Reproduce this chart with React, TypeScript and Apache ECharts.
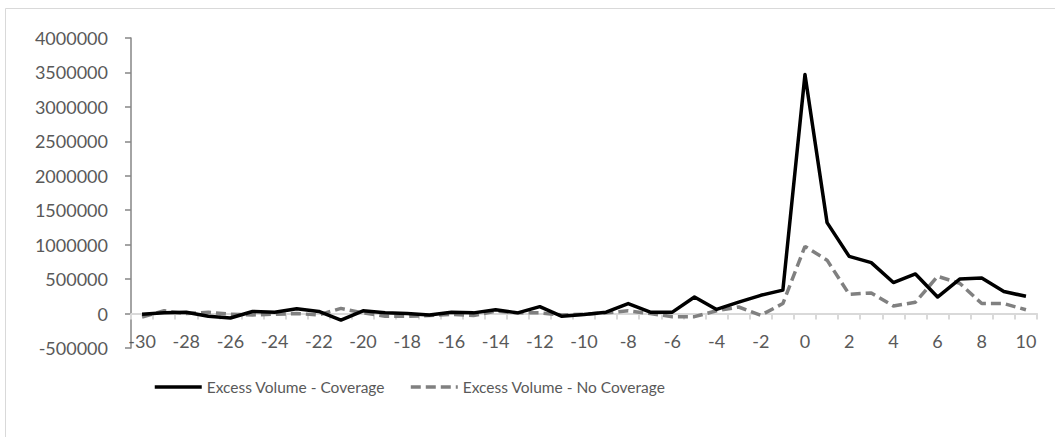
import React, { useEffect, useRef } from "react";
import * as echarts from "echarts";

const categories: string[] = [];
for (let k = -30; k <= 10; k++) categories.push(String(k));

const coverage = [
  -10000, 10000, 20000, -40000, -65000, 30000, 20000, 70000, 30000, -95000,
  40000, 10000, 0, -20000, 20000, 10000, 55000, 10000, 100000, -40000,
  -15000, 20000, 145000, 20000, 20000, 240000, 60000, 165000, 265000, 340000,
  3470000, 1320000, 830000, 740000, 450000, 575000, 240000, 500000, 515000, 320000,
  250000,
];

const noCoverage = [
  -50000, 40000, 0, 20000, -10000, -20000, -10000, 0, -20000, 75000,
  10000, -40000, -40000, -30000, -10000, -30000, 35000, 10000, 10000, -20000,
  -10000, 10000, 40000, 0, -45000, -45000, 40000, 95000, -25000, 145000,
  975000, 775000, 280000, 300000, 110000, 165000, 540000, 440000, 145000, 145000,
  55000,
];

const seriesNames = ["Excess Volume - Coverage", "Excess Volume - No Coverage"];

const FONT = "Lato, 'Open Sans', sans-serif";
const TEXT = "#595959";

export default function App() {
  const ref = useRef<HTMLDivElement>(null);
  useEffect(() => {
    if (!ref.current) return;
    const chart = echarts.init(ref.current, undefined, { renderer: "svg" });
    chart.setOption({
      animation: false,
      backgroundColor: "#ffffff",
      graphic: [
        {
          type: "rect",
          shape: { x: 5.5, y: 8.5, width: 1060, height: 440 },
          style: { fill: "none", stroke: "#d9d9d9", lineWidth: 1 },
          silent: true,
          z: -10,
        },
      ],
      grid: { left: 131, right: 18, top: 38, bottom: 89, containLabel: false },
      legend: {
        left: 153,
        top: 379,
        padding: 0,
        itemWidth: 47,
        itemHeight: 14,
        itemGap: 24,
        itemStyle: { color: "rgba(0,0,0,0)", borderWidth: 0, borderColor: "rgba(0,0,0,0)" },
        lineStyle: { width: 3.5 },
        textStyle: { fontFamily: FONT, fontSize: 15.5, color: TEXT },
        data: seriesNames,
      },
      xAxis: [
        {
          type: "category",
          data: categories,
          boundaryGap: true,
          axisLine: { onZero: true, lineStyle: { color: "#d9d9d9", width: 2 } },
          axisTick: { show: true, interval: 0, length: 6, lineStyle: { color: "#d9d9d9", width: 2 } },
          axisLabel: { show: false },
          splitLine: { show: false },
        },
        {
          type: "category",
          data: categories,
          position: "bottom",
          boundaryGap: true,
          axisLine: { show: false, onZero: false },
          axisTick: { show: false },
          axisLabel: {
            interval: 1,
            margin: -7,
            verticalAlign: "middle",
            fontFamily: FONT,
            fontSize: 18,
            color: TEXT,
          },
          splitLine: { show: false },
        },
      ],
      yAxis: {
        type: "value",
        min: -500000,
        max: 4000000,
        interval: 500000,
        axisLine: { show: true, lineStyle: { color: "#868686", width: 1.5 } },
        axisTick: { show: true, length: 6, lineStyle: { color: "#868686", width: 1.5 } },
        axisLabel: {
          margin: 23,
          fontFamily: FONT,
          fontSize: 18,
          color: TEXT,
          formatter: (v: number) => String(v),
        },
        splitLine: { show: false },
      },
      series: [
        {
          name: seriesNames[0],
          type: "line",
          xAxisIndex: 0,
          data: coverage,
          symbol: "none",
          lineStyle: { color: "#000000", width: 3.5, join: "round" },
          itemStyle: { color: "#000000" },
          z: 3,
        },
        {
          name: seriesNames[1],
          type: "line",
          xAxisIndex: 0,
          data: noCoverage,
          symbol: "none",
          lineStyle: { color: "#808080", width: 3.5, type: [10, 5] },
          itemStyle: { color: "#808080" },
          z: 2,
        },
      ],
    });
    return () => chart.dispose();
  }, []);
  return (
    <div
      ref={ref}
      style={{ position: "absolute", left: 0, top: 0, width: 1055, height: 437 }}
    />
  );
}
